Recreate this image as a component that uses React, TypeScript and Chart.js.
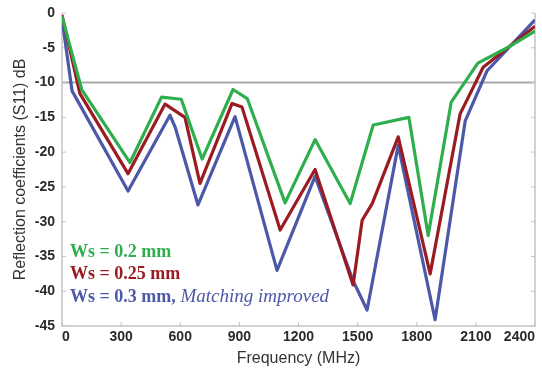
import React, { useEffect, useRef } from "react";
import { Chart, registerables } from "chart.js";

Chart.register(...registerables);

// ---- data ----
const xTicks = [0, 300, 600, 900, 1200, 1500, 1800, 2100, 2400];
const yTicks = [0, -5, -10, -15, -20, -25, -30, -35, -40, -45];
const refLevel = -10;

const freqGreen = [0, 100, 345, 505, 605, 711, 868, 940, 1132, 1284, 1462, 1579, 1760, 1858, 1975, 2110, 2259, 2400];
const dbGreen = [-0.5, -11, -21.5, -12.1, -12.4, -21, -11, -12.3, -27.3, -18.2, -27.4, -16.1, -15, -32, -12.8, -7.2, -5, -2.6];

const freqRed = [0, 91, 335, 523, 624, 700, 863, 913, 1107, 1284, 1477, 1523, 1574, 1706, 1868, 2020, 2137, 2400];
const dbRed = [-0.3, -11.6, -23.1, -13.1, -15, -24.5, -13, -13.5, -31.2, -22.5, -39.1, -29.8, -27.4, -17.8, -37.5, -14.5, -7.8, -1.9];

const freqBlue = [0, 51, 335, 548, 574, 690, 878, 1091, 1284, 1477, 1548, 1706, 1893, 2046, 2157, 2400];
const dbBlue = [-0.8, -11.2, -25.6, -14.7, -16.4, -27.6, -14.9, -37, -23.5, -38.5, -42.7, -19, -44.1, -15.5, -8.3, -1];

const seriesLabels = ["Ws = 0.2 mm", "Ws = 0.25 mm", "Ws = 0.3 mm"];
const seriesColors = ["#2fae4e", "#9a1c22", "#4c58a8"];
const legendText = ["Ws = 0.2 mm", "Ws = 0.25 mm", "Ws = 0.3 mm,"];
const legendNote = " Matching improved";

const xTitle = "Frequency (MHz)";
const yTitle = "Reflection coefficients (S11) dB";

function pts(xs: number[], ys: number[]) {
  return xs.map((x, i) => ({ x, y: ys[i] }));
}

const axisColor = "#c4c4c4";
const tickFont = { family: "'Liberation Sans', Arial, sans-serif", size: 14, weight: "bold" as const };
const titleFont = { family: "'Liberation Sans', Arial, sans-serif", size: 16, weight: "normal" as const };

const framePlugin = {
  id: "frame",
  beforeDatasetsDraw(chart: any) {
    const { ctx, chartArea } = chart;
    const { left, right, top, bottom } = chartArea;
    const xs = chart.scales.x;
    const ys = chart.scales.y;
    ctx.save();
    const yr = ys.getPixelForValue(refLevel);
    ctx.strokeStyle = "#a9a9a9";
    ctx.lineWidth = 2;
    ctx.beginPath();
    ctx.moveTo(left, yr);
    ctx.lineTo(right, yr);
    ctx.stroke();
    ctx.strokeStyle = axisColor;
    ctx.lineWidth = 1.5;
    ctx.beginPath();
    ctx.moveTo(left, top);
    ctx.lineTo(left, bottom);
    ctx.lineTo(right, bottom);
    ctx.lineTo(right, top);
    ctx.stroke();
    ctx.lineWidth = 1;
    ctx.beginPath();
    xTicks.forEach((v) => {
      const px = xs.getPixelForValue(v);
      ctx.moveTo(px, bottom);
      ctx.lineTo(px, bottom - 4);
    });
    yTicks.forEach((v) => {
      const py = ys.getPixelForValue(v);
      ctx.moveTo(left, py);
      ctx.lineTo(left + 4, py);
      ctx.moveTo(right, py);
      ctx.lineTo(right - 4, py);
    });
    ctx.stroke();
    ctx.restore();
  },
  afterDatasetsDraw(chart: any) {
    const { ctx, chartArea } = chart;
    ctx.save();
    ctx.textBaseline = "middle";
    ctx.textAlign = "left";
    const x0 = chartArea.left + 8;
    const yPos = [chartArea.bottom - 74, chartArea.bottom - 52, chartArea.bottom - 29];
    legendText.forEach((t, i) => {
      ctx.font = "bold 18px 'Liberation Serif', 'Times New Roman', serif";
      ctx.fillStyle = seriesColors[i];
      ctx.fillText(t, x0, yPos[i]);
      if (i === 2) {
        const w = ctx.measureText(t).width;
        ctx.font = "italic 19px 'Liberation Serif', 'Times New Roman', serif";
        ctx.fillText(legendNote, x0 + w, yPos[i]);
      }
    });
    ctx.restore();
  },
};

export default function App() {
  const ref = useRef<HTMLCanvasElement | null>(null);
  useEffect(() => {
    if (!ref.current) return;
    const data = [
      pts(freqGreen, dbGreen),
      pts(freqRed, dbRed),
      pts(freqBlue, dbBlue),
    ];
    const chart = new Chart(ref.current, {
      type: "line",
      data: {
        datasets: data.map((d, i) => ({
          label: seriesLabels[i],
          data: d,
          borderColor: seriesColors[i],
          backgroundColor: seriesColors[i],
          borderWidth: 3.2,
          pointRadius: 0,
          tension: 0,
          borderJoinStyle: "round" as const,
          fill: false,
        })),
      },
      options: {
        animation: false,
        responsive: false,
        layout: { padding: { left: 0, right: 7, top: 13, bottom: 0 } },
        plugins: { legend: { display: false }, tooltip: { enabled: false } },
        scales: {
          x: {
            type: "linear",
            min: 0,
            max: 2400,
            afterBuildTicks: (s: any) => {
              s.ticks = xTicks.map((v) => ({ value: v }));
            },
            afterFit: (s: any) => {
              s.height = 47;
              s.paddingLeft = 0;
              s.paddingRight = 0;
            },
            grid: { display: false, drawTicks: false },
            border: { display: false },
            ticks: {
              font: tickFont,
              color: "#2a2a2a",
              padding: 3,
              align: "inner",
              maxRotation: 0,
              autoSkip: false,
              callback: (v: any) => String(v),
            },
            title: { display: true, text: xTitle, font: titleFont, color: "#333", padding: { top: 0, bottom: 5 } },
          },
          y: {
            type: "linear",
            min: -45,
            max: 0,
            afterBuildTicks: (s: any) => {
              s.ticks = yTicks.map((v) => ({ value: v }));
            },
            afterFit: (s: any) => {
              s.width = 62;
              s.paddingTop = 0;
              s.paddingBottom = 0;
            },
            grid: { display: false, drawTicks: false },
            border: { display: false },
            ticks: {
              font: tickFont,
              color: "#2a2a2a",
              padding: 7,
              autoSkip: false,
              callback: (v: any) => String(v),
            },
            title: { display: true, text: yTitle, font: titleFont, color: "#333", padding: { top: 11, bottom: 0 } },
          },
        },
      },
      plugins: [framePlugin],
    });
    return () => chart.destroy();
  }, []);
  return (
    <div style={{ position: "absolute", left: 0, top: 0, width: 542, height: 373, background: "#fff" }}>
      <canvas ref={ref} width={542} height={373} style={{ display: "block" }} />
    </div>
  );
}
